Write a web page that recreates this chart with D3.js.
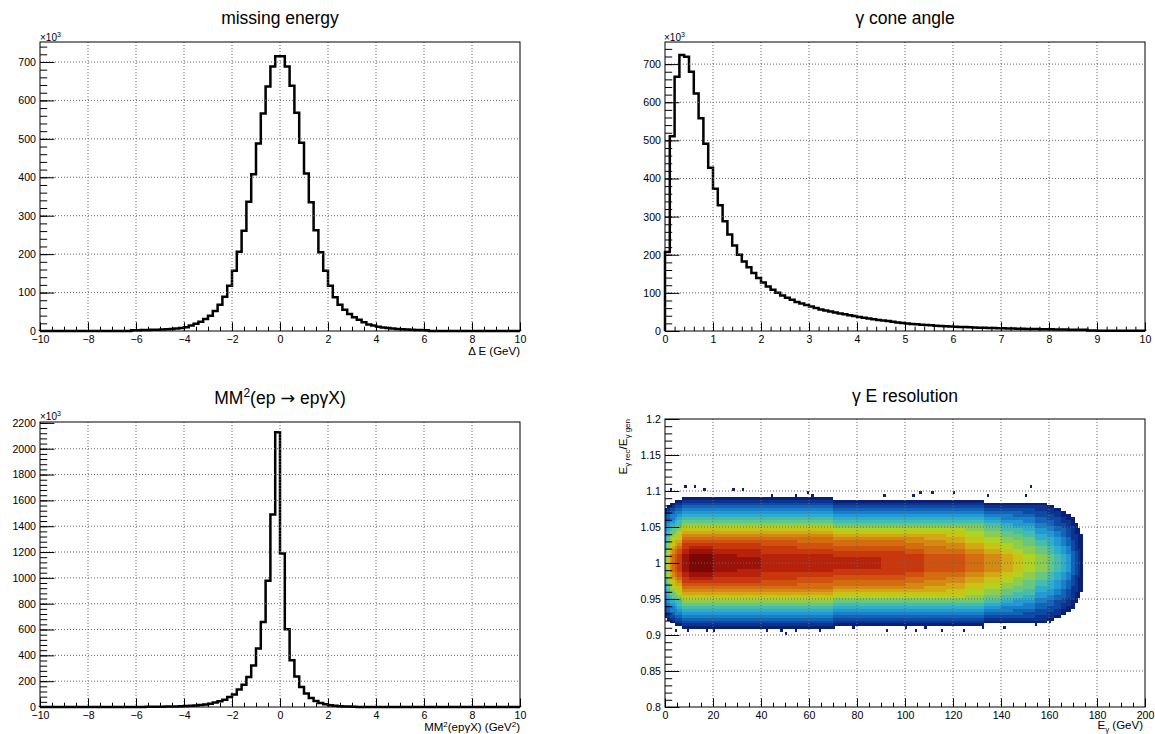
<!DOCTYPE html>
<html>
<head>
<meta charset="utf-8">
<script src="https://cdn.jsdelivr.net/npm/d3@7"></script>
<style>
  body { margin: 0; background: #fff; }
  svg { font-family: "Liberation Sans", Arial, Helvetica, sans-serif; }
  .grid { stroke: #666; stroke-width: 1; stroke-dasharray: 1,2; }
  .tick text { font-size: 10.6px; fill: #000; }
</style>
</head>
<body>
<svg id="chart" width="1155" height="734"></svg>
<script>
// ---------------- data (entries in units of 1e3) ----------------
// missing energy: 100 bins of 0.2 GeV from -10 to 10
var missEnergy = [
  0.3,0.3,0.3,0.3,0.3,0.3,0.3,0.3,0.3,0.3,0.3,0.3,0.3,0.3,0.3,0.3,0.3,0.3,0.3,
  2.0,2.2,2.5,2.8,3.1,3.5,4.0,4.6,5.3,6.2,7.5,
  10,14,19,24,31,40,52,68,89,118,157,206,261,336,408,488,566,636,688,715,
  715,688,638,568,490,410,335,262,205,157,118,88,68,55,44,36,29,23,17,14,11,9,7.5,6.3,5.3,4.5,3.8,3.3,2.9,2.5,2.2,
  0.3,0.3,0.3,0.3,0.3,0.3,0.3,0.3,0.3,0.3,0.3,0.3,0.3,0.3,0.3,0.3,0.3,0.3,0.3
];
// gamma cone angle: 100 bins of 0.1 from 0 to 10
var coneAngle = [
  207,511,667,724,719,680,623,558,491,428,
  373,330,288,253,224,200,182,167,152,139,
  127,117,108,100,93,87,82,76,72,68,
  64,60,56.5,54,51,48.5,46,44,41.5,39.5,
  37,35,33,31,29,27.5,26,24,22.5,21,
  19.5,18.5,17.5,16.5,15.5,14.8,14,13.3,12.6,12,
  11.4,10.8,10.3,9.8,9.3,8.8,8.4,8,7.6,7.2,
  6.9,6.6,6.3,6,5.7,5.4,5.2,5,4.8,4.6,
  4.4,4.2,4.0,3.8,3.6,3.5,3.3,3.2,1.2,1.0,
  0.9,0.8,0.8,0.7,0.7,0.6,0.6,0.5,0.5,0.5
];
// MM^2(ep -> ep gamma X): 100 bins of 0.2 GeV^2 from -10 to 10
var mm2 = [
  0.3,0.3,0.3,0.3,0.3,0.3,0.3,0.3,0.3,0.3,0.3,0.3,0.3,0.3,0.3,0.3,0.3,0.3,0.3,0.3,0.3,0.3,
  1.5,1.8,2.1,2.5,3,3.5,4.2,5.5,7,9,12,15,20,26,34,44,57,78,96,135,173,233,321,453,659,977,1491,
  2127,
  1189,602,362,236,155,104,70,47,31,21,14,9.5,6.5,4.5,3.2,2.3,
  0.3,0.3,0.3,0.3,0.3,0.3,0.3,0.3,0.3,0.3,0.3,0.3,0.3,0.3,0.3,0.3,0.3,
  0.3,0.3,0.3,0.3,0.3,0.3,0.3,0.3,0.3,0.3,0.3,0.3,0.3,0.3,0.3,0.3,0.3
];

// gamma E resolution: cells of 1 GeV x 0.004, colour level 1..20
// each profile = level of the rows going outward from ratio 1 (symmetric)
var heatLevelChars = "0123456789abcdefghijk";
var heatColEdges = [0,1,2,3,4,5,7,10,20,30,40,55,70,90,100,108,117,125,133,140,145,149,154,159,162,165,167,169,171,172,173,174];
var heatProfiles = [
  "aaa9988776655443321",
  "cccbbaa9988766544321",
  "eeeddccbaa98876554321",
  "fffeedccba99876554321",
  "gggffeddcba99876554321",
  "hhhggfedccba9887654321",
  "jjjiihhgfedcba987654321",
  "kkkjjihgfedcba987654321",
  "jjjiihhgfedcba987654321",
  "jjiiihhgfedcba987654321",
  "iiihhhggfedcba987654321",
  "iiihhggffedcba987654321",
  "iihhggffedcba987654321",
  "hhhhggffedcba987654321",
  "hhhggffeedcba987654321",
  "gggfffeeddcba987654321",
  "gggffeeddccba987654321",
  "fffeeddccbbaa987654321",
  "eeeddccbbaa9987654321",
  "dddccbbaa998876554321",
  "cccbbaaa9988766544321",
  "bbbaaa999887765543321",
  "aaa999887766554433221",
  "99988877766554433221",
  "8887776665544333221",
  "777666555444332211",
  "66655544433322211",
  "4444333322222111",
  "33332222221111",
  "222221111111",
  "1111111111"
];
// isolated low-count cells [E_gamma bin start, ratio bin start]
var heatStray = [
  [2,1.100],[8,1.104],[12,1.104],[16,1.100],[28,1.100],[32,1.100],[44,1.092],[54,1.092],
  [59,1.096],[61,1.092],[91,1.092],[103,1.092],[106,1.096],[111,1.096],[120,1.096],
  [134,1.092],[150,1.092],[152,1.104],
  [4,0.904],[9,0.904],[17,0.904],[20,0.904],[29,0.908],[42,0.904],[45,0.908],[48,0.904],
  [50,0.900],[54,0.904],[64,0.904],[70,0.908],[78,0.908],[92,0.904],[100,0.908],[104,0.904],
  [108,0.908],[115,0.904],[124,0.904],[132,0.908],[141,0.908],[154,0.912],[160,0.916]
];
var heatPalette = [
  "#0a1f78","#0c348e","#0e4aa4","#1264b8","#1a7ec8","#2298d4","#2eaecb","#46bcac","#66c682","#8ccc50",
  "#b0d222","#c8c416","#d2a814","#d48a12","#d46c10","#d0520e","#c8380c","#b8220a","#9c1208","#7a0606"
];

// tick values
var ticksSym = d3.range(-10, 10.001, 2);
var ticksSymMinor = d3.range(-10, 10.001, 0.5);
var ticksCone = d3.range(0, 10.001, 1);
var ticksConeMinor = d3.range(0, 10.001, 0.2);
var ticksK = d3.range(0, 701, 100);
var ticksKMinor = d3.range(0, 751, 20);
var ticksMM = d3.range(0, 2201, 200);
var ticksMMMinor = d3.range(0, 2201, 40);
var ticksEg = d3.range(0, 201, 20);
var ticksEgMinor = d3.range(0, 201, 5);
var ticksRatio = d3.range(0, 9).map(function (i) { return 0.8 + i * 0.05; });
var ticksRatioMinor = d3.range(0, 41).map(function (i) { return 0.8 + i * 0.01; });

// ---------------- drawing ----------------
var svg = d3.select("#chart");
var fmtNum = function (d) {
  var v = +d.toFixed(2);
  return v < 0 ? "\u2212" + Math.abs(v) : String(v);
};

function makePanel(o) {
  var p = { o: o };
  p.x = d3.scaleLinear().domain(o.xDomain).range([o.left, o.right]);
  p.y = d3.scaleLinear().domain(o.yDomain).range([o.bottom, o.top]);
  p.g = svg.append("g");
  p.content = p.g.append("g");
  p.deco = p.g.append("g");
  return p;
}

function drawAxes(p) {
  var o = p.o, x = p.x, y = p.y, g = p.deco;
  var xTick = 0.03 * (o.bottom - o.top), yTick = 0.03 * (o.right - o.left);

  // dotted grid at major ticks
  g.selectAll(null).data(o.xMajor.filter(function (v) { return x(v) > o.left + 1 && x(v) < o.right - 1; }))
    .enter().append("line").attr("class", "grid")
    .attr("x1", x).attr("x2", x).attr("y1", o.top).attr("y2", o.bottom);
  g.selectAll(null).data(o.yMajor.filter(function (v) { return y(v) > o.top + 1 && y(v) < o.bottom - 1; }))
    .enter().append("line").attr("class", "grid")
    .attr("y1", y).attr("y2", y).attr("x1", o.left).attr("x2", o.right);

  function clean(sel) { sel.select(".domain").remove(); sel.attr("font-family", null).attr("font-size", null); }

  g.append("g").attr("transform", "translate(0," + o.bottom + ")")
    .call(d3.axisBottom(x).tickValues(o.xMinor).tickSize(-xTick / 2).tickFormat("")).call(clean);
  g.append("g").attr("transform", "translate(0," + o.bottom + ")")
    .call(d3.axisBottom(x).tickValues(o.xMajor).tickSize(-xTick).tickPadding(4.5).tickFormat(fmtNum)).call(clean);
  g.append("g").attr("transform", "translate(" + o.left + ",0)")
    .call(d3.axisLeft(y).tickValues(o.yMinor.filter(function (v) { return v <= o.yDomain[1]; })).tickSize(-yTick / 2).tickFormat("")).call(clean);
  g.append("g").attr("transform", "translate(" + o.left + ",0)")
    .call(d3.axisLeft(y).tickValues(o.yMajor).tickSize(-yTick).tickPadding(4).tickFormat(fmtNum)).call(clean);

  g.append("rect").attr("x", o.left).attr("y", o.top)
    .attr("width", o.right - o.left).attr("height", o.bottom - o.top)
    .attr("fill", "none").attr("stroke", "#000").attr("stroke-width", 1);
}

function drawHist(p, vals, lo, w) {
  var pts = [[p.x(lo), p.y(0)]];
  vals.forEach(function (v, i) {
    pts.push([p.x(lo + i * w), p.y(v)]);
    pts.push([p.x(lo + (i + 1) * w), p.y(v)]);
  });
  pts.push([p.x(lo + vals.length * w), p.y(0)]);
  p.content.append("path").attr("d", d3.line()(pts))
    .attr("fill", "none").attr("stroke", "#000").attr("stroke-width", 2.5)
    .attr("stroke-linejoin", "miter");
}

// parts: [text, kind, dx, font]
function title(xc, yb, parts) {
  var t = svg.append("text").attr("x", xc).attr("y", yb).attr("text-anchor", "middle").attr("font-size", 17.5);
  parts.forEach(function (s) {
    var ts = t.append("tspan").text(s[0]);
    if (s[1] === "sup") ts.attr("font-size", 12).attr("dy", -7);
    if (s[1] === "base") ts.attr("dy", 7);
    if (s[2]) ts.attr("dx", s[2]);
    if (s[3]) ts.attr("font-family", s[3]);
  });
}

function expLabel(x0, yb) {
  var t = svg.append("text").attr("x", x0).attr("y", yb).attr("font-size", 10);
  t.append("tspan").text("\u00d710");
  t.append("tspan").text("3").attr("font-size", 7).attr("dy", -4);
}

// panel 1: missing energy
var p1 = makePanel({ left: 40, right: 520, top: 42, bottom: 331, xDomain: [-10, 10], yDomain: [0, 752],
  xMajor: ticksSym, xMinor: ticksSymMinor, yMajor: ticksK, yMinor: ticksKMinor });
drawHist(p1, missEnergy, -10, 0.2);
drawAxes(p1);
title(280, 24, [["missing energy"]]);
expLabel(40, 41);
svg.append("text").attr("x", 520).attr("y", 355).attr("text-anchor", "end").attr("font-size", 11.5)
  .text("\u0394 E (GeV)");

// panel 2: gamma cone angle
var p2 = makePanel({ left: 665, right: 1145, top: 42, bottom: 331, xDomain: [0, 10], yDomain: [0, 758],
  xMajor: ticksCone, xMinor: ticksConeMinor, yMajor: ticksK, yMinor: ticksKMinor });
drawHist(p2, coneAngle, 0, 0.1);
drawAxes(p2);
title(905, 24, [["\u03b3 cone angle"]]);
expLabel(664, 41);

// panel 3: MM^2
var p3 = makePanel({ left: 40, right: 520, top: 422, bottom: 707, xDomain: [-10, 10], yDomain: [0, 2207],
  xMajor: ticksSym, xMinor: ticksSymMinor, yMajor: ticksMM, yMinor: ticksMMMinor });
drawHist(p3, mm2, -10, 0.2);
drawAxes(p3);
title(280, 404, [["MM"], ["2", "sup"], ["(ep", "base"], ["\u2192", "", 5, "DejaVu Sans"], ["ep\u03b3X)", "", 5]]);
expLabel(40, 420);
(function () {
  var t = svg.append("text").attr("x", 520).attr("y", 730.5).attr("text-anchor", "end").attr("font-size", 11.5);
  t.append("tspan").text("MM");
  t.append("tspan").text("2").attr("font-size", 8).attr("dy", -4);
  t.append("tspan").text("(ep\u03b3X) (GeV").attr("dy", 4);
  t.append("tspan").text("2").attr("font-size", 8).attr("dy", -4);
  t.append("tspan").text(")").attr("dy", 4);
})();

// panel 4: gamma E resolution
var p4 = makePanel({ left: 665, right: 1145, top: 419, bottom: 707, xDomain: [0, 200], yDomain: [0.8, 1.2],
  xMajor: ticksEg, xMinor: ticksEgMinor, yMajor: ticksRatio, yMinor: ticksRatioMinor });
var heatDx = 1, heatDy = 0.004;
var cells = [];
heatProfiles.forEach(function (prof, s) {
  for (var c = heatColEdges[s]; c < heatColEdges[s + 1]; c++) {
    for (var d = 0; d < prof.length; d++) {
      var lev = heatLevelChars.indexOf(prof[d]);
      if (lev > 0) {
        cells.push({ e: c, r: 1 + d * heatDy, lev: lev });
        cells.push({ e: c, r: 1 - (d + 1) * heatDy, lev: lev });
      }
    }
  }
});
heatStray.forEach(function (s) { cells.push({ e: s[0], r: s[1], lev: 1 }); });
p4.content.selectAll("rect").data(cells).enter().append("rect")
  .attr("x", function (d) { return p4.x(d.e); })
  .attr("y", function (d) { return p4.y(d.r + heatDy); })
  .attr("width", function (d) { return p4.x(d.e + heatDx) - p4.x(d.e); })
  .attr("height", function (d) { return p4.y(d.r) - p4.y(d.r + heatDy); })
  .attr("fill", function (d) { return heatPalette[d.lev - 1]; })
  .attr("shape-rendering", "crispEdges");
drawAxes(p4);
title(905, 402, [["\u03b3 E resolution"]]);
(function () {
  var t = svg.append("text").attr("x", 1143).attr("y", 729).attr("text-anchor", "end").attr("font-size", 11.5);
  t.append("tspan").text("E");
  t.append("tspan").text("\u03b3").attr("font-size", 8).attr("dy", 3);
  t.append("tspan").text(" (GeV)").attr("dy", -3);
  var ty = svg.append("text").attr("transform", "translate(627,419) rotate(-90)")
    .attr("text-anchor", "end").attr("font-size", 11.5);
  ty.append("tspan").text("E");
  ty.append("tspan").text("\u03b3 rec").attr("font-size", 8).attr("dy", 3);
  ty.append("tspan").text("/E").attr("dy", -3);
  ty.append("tspan").text("\u03b3 gen").attr("font-size", 8).attr("dy", 3);
})();
</script>
</body>
</html>
